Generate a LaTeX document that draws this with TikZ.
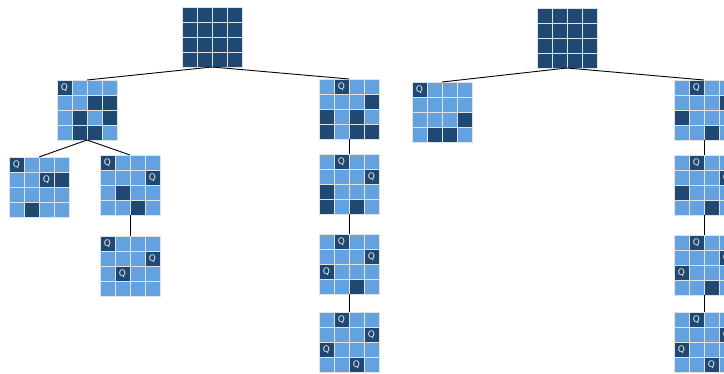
\documentclass[tikz,border=0pt]{standalone}
\usepackage{fontspec}
\setmainfont{DejaVu Sans}
\newfontfamily\qfont{DejaVu Sans}
\definecolor{darkq}{HTML}{1F4873}
\definecolor{lightq}{HTML}{64A2DF}
\definecolor{gridq}{HTML}{E2E2E2}
\definecolor{qtext}{HTML}{EEEEEE}
\tikzset{
  cellbase/.style={minimum size=15pt, inner sep=0pt, outer sep=0pt, draw=gridq, line width=1pt, anchor=north west},
  cellL/.style={cellbase, fill=lightq, node contents={}},
  cellD/.style={cellbase, fill=darkq, node contents={}},
  cellQ/.style={cellbase, fill=darkq, text=qtext, font=\qfont\fontsize{9}{9}\selectfont, node contents={Q}},
  boardq/.style={minimum size=60pt, inner sep=0pt, outer sep=0pt, anchor=north west},
  link/.style={draw=black, line width=0.9pt},
}
\newcommand\qboard[4]{%
  \node[boardq] (#1) at (#2,#3) {};
  \foreach \c [count=\i from 0] in {#4} {
    \pgfmathtruncatemacro\rr{\i/4}
    \pgfmathtruncatemacro\cc{mod(\i,4)}
    \node at ({#2+15*\cc},{#3+15*\rr}) [cell\c];
  }
}
\begin{document}
\begin{tikzpicture}[x=1pt,y=-1pt]
\useasboundingbox (0,0) rectangle (724,373);
% left tree
\qboard{R}{182}{7}{D,D,D,D,D,D,D,D,D,D,D,D,D,D,D,D}
\qboard{La}{57}{80}{Q,L,L,L,L,L,D,D,L,D,L,D,L,D,D,L}
\qboard{Lb}{319}{79}{L,Q,L,L,L,L,L,D,D,L,D,L,D,L,D,D}
\qboard{Maa}{9}{157}{Q,L,L,L,L,L,Q,D,L,L,L,L,L,D,L,L}
\qboard{Mab}{100}{155}{Q,L,L,L,L,L,L,Q,L,D,L,L,L,L,D,L}
\qboard{Nab}{100}{236}{Q,L,L,L,L,L,L,Q,L,Q,L,L,L,L,L,L}
\qboard{Cb}{319}{154}{L,Q,L,L,L,L,L,Q,D,L,L,L,D,L,D,L}
\qboard{Cc}{319}{234}{L,Q,L,L,L,L,L,Q,Q,L,L,L,L,L,D,L}
\qboard{Cd}{319}{312}{L,Q,L,L,L,L,L,Q,Q,L,L,L,L,L,Q,L}
% right tree
\qboard{RR}{537}{8}{D,D,D,D,D,D,D,D,D,D,D,D,D,D,D,D}
\qboard{RLa}{412}{82}{Q,L,L,L,L,L,L,L,L,L,L,D,L,D,D,L}
\qboard{RLb}{674}{80}{L,Q,L,L,L,L,L,D,D,L,L,L,L,L,D,L}
\qboard{RCb}{674}{155}{L,Q,L,L,L,L,L,Q,D,L,L,L,L,L,D,L}
\qboard{RCc}{674}{235}{L,Q,L,L,L,L,L,Q,Q,L,L,L,L,L,D,L}
\qboard{RCd}{674}{312}{L,Q,L,L,L,L,L,Q,Q,L,L,L,L,L,Q,L}
% links
\draw[link] (R.south) -- (La.north);
\draw[link] (R.south) -- (Lb.north);
\draw[link] (La.south) -- (Maa.north);
\draw[link] (La.south) -- (Mab.north);
\draw[link] (Mab.south) -- (Nab.north);
\draw[link] (Lb.south) -- (Cb.north);
\draw[link] (Cb.south) -- (Cc.north);
\draw[link] (Cc.south) -- (Cd.north);
\draw[link] (RR.south) -- (RLa.north);
\draw[link] (RR.south) -- (RLb.north);
\draw[link] (RLb.south) -- (RCb.north);
\draw[link] (RCb.south) -- (RCc.north);
\draw[link] (RCc.south) -- (RCd.north);
\end{tikzpicture}
\end{document}
